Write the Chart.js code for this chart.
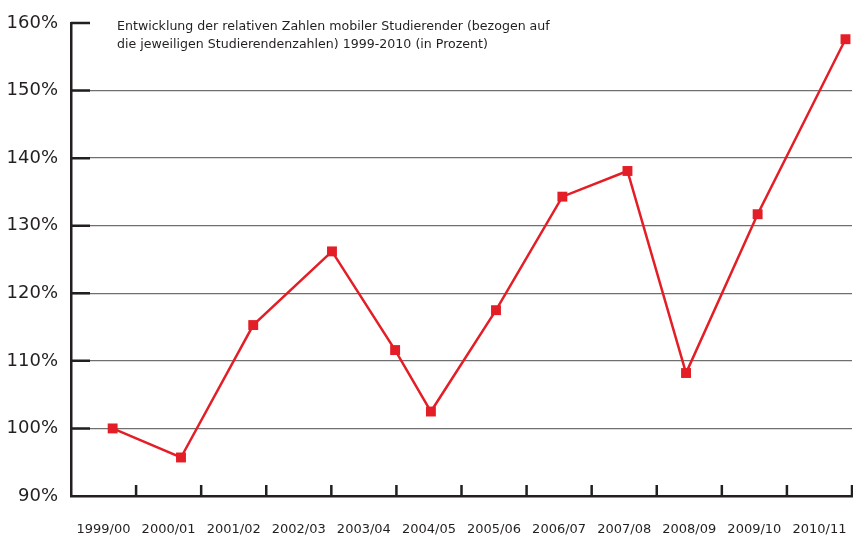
<!DOCTYPE html>
<html lang="de">
<head>
<meta charset="utf-8">
<title>Mobile Studierende 1999-2010</title>
<script src="https://cdn.jsdelivr.net/npm/chart.js@4"></script>
<style>
  html, body { margin: 0; padding: 0; background: #fff; }
  canvas { display: block; }
</style>
</head>
<body>
<canvas id="chart" width="853" height="539"></canvas>
<script>
// Studienjahre (Kategorien)
const categories = [
  '1999/00', '2000/01', '2001/02', '2002/03', '2003/04', '2004/05',
  '2005/06', '2006/07', '2007/08', '2008/09', '2009/10', '2010/11'
]
// relative Zahlen mobiler Studierender, in Prozent
const values = [100.0, 95.7, 115.3, 126.2, 111.6, 102.5, 117.5, 134.3, 138.1, 108.2, 131.7, 157.6]
// Lage jedes Punktes auf der Jahresachse (0 = Mitte von 1999/00)
const positions = [0.14, 1.19, 2.30, 3.51, 4.48, 5.03, 6.03, 7.05, 8.05, 8.95, 10.05, 11.40]
// y-Achse
const yTicks = [90, 100, 110, 120, 130, 140, 150, 160]
const titleLines = [
  'Entwicklung der relativen Zahlen mobiler Studierender (bezogen auf',
  'die jeweiligen Studierendenzahlen) 1999-2010 (in Prozent)'
]

;(() => {
  'use strict'

  const ink = '#231f20'
  const red = '#e31e26'
  const font = '"DejaVu Sans", sans-serif'

  // kurze schwarze Striche an der y-Achse, Striche an der x-Achse, Titel
  const decor = {
    id: 'decor',
    beforeDatasetsDraw (chart) {
      const { ctx, chartArea: a, scales } = chart
      const xl = scales.xl
      const y = scales.y
      ctx.save()
      ctx.strokeStyle = ink
      ctx.lineWidth = 2.5
      ctx.beginPath()
      yTicks.slice(1).forEach(v => {
        const py = y.getPixelForValue(v)
        ctx.moveTo(a.left, py)
        ctx.lineTo(a.left + 19, py)
      })
      categories.forEach((c, i) => {
        const px = xl.getPixelForValue(i + 0.5)
        ctx.moveTo(px, a.bottom)
        ctx.lineTo(px, a.bottom - 11)
      })
      ctx.stroke()

      ctx.fillStyle = ink
      ctx.font = '12.6px ' + font
      ctx.textAlign = 'left'
      ctx.textBaseline = 'alphabetic'
      titleLines.forEach((t, i) => {
        ctx.fillText(t, a.left + 46, 29.5 + 18.5 * i)
      })
      ctx.restore()
    }
  }

  const ctx = document.getElementById('chart')

  new Chart(ctx, {
    type: 'line',
    data: {
      labels: categories,
      datasets: [
        {
          data: positions.map((p, i) => ({ x: p, y: values[i] })),
          xAxisID: 'xl',
          yAxisID: 'y',
          borderColor: red,
          backgroundColor: red,
          borderWidth: 2.5,
          tension: 0,
          pointStyle: 'rect',
          pointRadius: 7,
          pointBorderWidth: 0,
          pointBackgroundColor: red,
          clip: false
        }
      ]
    },
    options: {
      responsive: false,
      animation: false,
      layout: { autoPadding: false, padding: { top: 23, right: 1, left: 0, bottom: 0 } },
      plugins: {
        legend: { display: false },
        tooltip: { enabled: false },
        title: { display: false }
      },
      scales: {
        x: {
          type: 'category',
          position: 'bottom',
          offset: true,
          grid: { display: false, drawTicks: false },
          border: { display: true, color: ink, width: 2.5 },
          ticks: {
            color: ink,
            padding: 26,
            maxRotation: 0,
            autoSkip: false,
            font: { family: font, size: 13 }
          },
          afterFit: s => {
            s.height = 43
            s.paddingLeft = 0
            s.paddingRight = 0
          }
        },
        xl: {
          type: 'linear',
          display: false,
          min: -0.5,
          max: 11.5
        },
        y: {
          min: 90,
          max: 160,
          afterBuildTicks: s => { s.ticks = yTicks.map(v => ({ value: v })) },
          grid: {
            drawTicks: false,
            color: c => (c.tick && (c.tick.value === 90 || c.tick.value === 160)) ? 'rgba(0,0,0,0)' : '#6f6f6f',
            lineWidth: 1.3
          },
          border: { display: true, color: ink, width: 2.5 },
          ticks: {
            color: ink,
            padding: 13,
            font: { family: font, size: 18 },
            callback: v => v + '%'
          },
          afterFit: s => {
            s.width = 71
            s.paddingTop = 0
            s.paddingBottom = 0
          }
        }
      }
    },
    plugins: [decor]
  })
})()
</script>
</body>
</html>
